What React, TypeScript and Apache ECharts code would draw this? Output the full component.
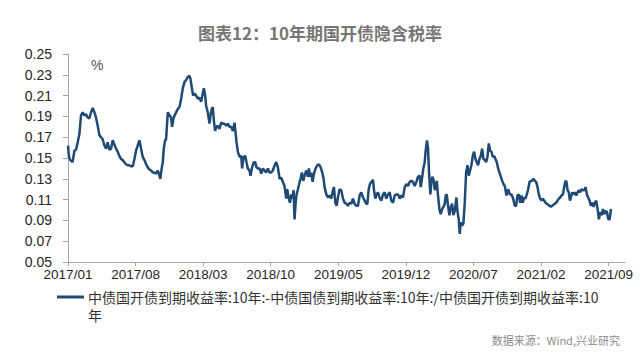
import { useEffect, useRef } from 'react';
import * as echarts from 'echarts';

const chartTitle = '图表12：10年期国开债隐含税率';
const seriesName = '中债国开债到期收益率:10年:-中债国债到期收益率:10年:/中债国开债到期收益率:10年';
const sourceText = '数据来源：Wind,兴业研究';
const unitText = '%';

// x axis: months since 2017/01; labelled every 7 months
const labelMonths = [0, 7, 14, 21, 28, 35, 42, 49, 56];
const yMin = 0.05;
const yMax = 0.25;
const yStep = 0.02;

// observation time (months since 2017/01, fractional)
const t = [
  0, 0.1, 0.24, 0.48, 0.66, 0.83, 1.0, 1.18, 1.35, 1.52, 1.69, 1.87, 2.04, 2.21, 2.39, 2.56, 2.73, 2.9, 3.08, 3.25,
  3.42, 3.59, 3.77, 3.94, 4.11, 4.29, 4.46, 4.63, 4.8, 4.98, 5.15, 5.32, 5.5, 5.67, 5.84, 6.01, 6.19, 6.36, 6.53, 6.71,
  6.88, 7.05, 7.22, 7.4, 7.57, 7.74, 7.92, 8.09, 8.26, 8.43, 8.61, 8.78, 8.95, 9.13, 9.3, 9.47, 9.57, 9.64, 9.82, 9.92,
  10.06, 10.16, 10.34, 10.51, 10.68, 10.78, 10.92, 11.1, 11.37, 11.55, 11.72, 11.89, 12.06, 12.24, 12.41, 12.58, 12.69, 12.82, 12.96, 13.1,
  13.27, 13.45, 13.62, 13.79, 13.96, 14.07, 14.21, 14.31, 14.48, 14.66, 14.76, 14.9, 15.0, 15.11, 15.24, 15.38, 15.52, 15.69, 15.87, 16.04,
  16.21, 16.39, 16.56, 16.73, 16.9, 17.08, 17.25, 17.35, 17.46, 17.6, 17.77, 17.94, 18.04, 18.18, 18.36, 18.49, 18.63, 18.8, 18.91, 19.04,
  19.25, 19.39, 19.53, 19.67, 19.84, 20.02, 20.19, 20.36, 20.53, 20.7, 20.88, 21.05, 21.22, 21.4, 21.57, 21.74, 21.92, 22.09, 22.26, 22.43,
  22.61, 22.71, 22.85, 22.99, 23.13, 23.26, 23.37, 23.47, 23.58, 23.68, 23.82, 23.99, 24.09, 24.23, 24.37, 24.51, 24.68, 24.85, 24.96, 25.06,
  25.2, 25.34, 25.48, 25.65, 25.82, 26.0, 26.17, 26.34, 26.48, 26.58, 26.76, 26.93, 27.1, 27.27, 27.45, 27.55, 27.69, 27.83, 27.96, 28.13,
  28.31, 28.48, 28.66, 28.83, 29.0, 29.18, 29.35, 29.52, 29.69, 29.87, 30.04, 30.21, 30.39, 30.56, 30.73, 30.9, 31.01, 31.15, 31.28, 31.42,
  31.59, 31.7, 31.84, 31.97, 32.11, 32.28, 32.46, 32.63, 32.8, 32.97, 33.15, 33.32, 33.49, 33.67, 33.84, 34.01, 34.19, 34.36, 34.53, 34.7,
  34.88, 35.05, 35.22, 35.4, 35.57, 35.74, 35.91, 36.09, 36.26, 36.43, 36.54, 36.67, 36.81, 36.95, 37.05, 37.19, 37.3, 37.4, 37.54, 37.64,
  37.75, 37.89, 37.99, 38.09, 38.2, 38.33, 38.47, 38.61, 38.75, 38.89, 39.03, 39.13, 39.23, 39.37, 39.51, 39.65, 39.79, 39.92, 40.06, 40.24,
  40.34, 40.48, 40.58, 40.69, 40.82, 40.96, 41.1, 41.24, 41.38, 41.52, 41.65, 41.79, 41.93, 42.07, 42.21, 42.35, 42.48, 42.62, 42.76, 42.9,
  43.04, 43.18, 43.32, 43.45, 43.59, 43.73, 43.87, 44.01, 44.15, 44.28, 44.42, 44.56, 44.7, 44.84, 44.98, 45.11, 45.25, 45.42, 45.59, 45.77,
  45.94, 46.11, 46.28, 46.42, 46.56, 46.7, 46.84, 46.98, 47.11, 47.25, 47.39, 47.53, 47.67, 47.81, 47.94, 48.08, 48.22, 48.36, 48.5, 48.64,
  48.77, 48.91, 49.05, 49.19, 49.33, 49.47, 49.6, 49.74, 49.88, 50.02, 50.16, 50.29, 50.43, 50.57, 50.71, 50.85, 50.99, 51.12, 51.26, 51.4,
  51.54, 51.64, 51.75, 51.88, 51.99, 52.09, 52.23, 52.37, 52.51, 52.65, 52.79, 52.92, 53.06, 53.2, 53.34, 53.48, 53.62, 53.75, 53.89, 54.03,
  54.17, 54.31, 54.45, 54.58, 54.72, 54.86, 55.0, 55.14, 55.28, 55.42, 55.56, 55.7, 55.83, 55.97, 56.11, 56.25,
];

// implied tax rate (%)
const rate = [
  0.162, 0.151, 0.148, 0.146, 0.157, 0.158, 0.165, 0.173, 0.191, 0.194, 0.191, 0.192, 0.189, 0.188, 0.194, 0.198, 0.194, 0.189, 0.181, 0.172,
  0.17, 0.168, 0.162, 0.159, 0.165, 0.158, 0.159, 0.167, 0.163, 0.159, 0.156, 0.152, 0.149, 0.148, 0.146, 0.144, 0.143, 0.143, 0.142, 0.142,
  0.149, 0.157, 0.162, 0.167, 0.159, 0.151, 0.148, 0.144, 0.141, 0.139, 0.138, 0.136, 0.136, 0.135, 0.138, 0.133, 0.13, 0.136, 0.146, 0.159,
  0.167, 0.168, 0.194, 0.191, 0.189, 0.18, 0.188, 0.192, 0.197, 0.199, 0.207, 0.217, 0.223, 0.225, 0.228, 0.229, 0.226, 0.218, 0.21, 0.212,
  0.21, 0.207, 0.208, 0.204, 0.212, 0.217, 0.21, 0.2, 0.194, 0.183, 0.191, 0.197, 0.199, 0.186, 0.176, 0.18, 0.181, 0.178, 0.184, 0.183,
  0.183, 0.181, 0.183, 0.18, 0.18, 0.176, 0.184, 0.175, 0.165, 0.156, 0.151, 0.152, 0.14, 0.151, 0.152, 0.146, 0.14, 0.138, 0.133, 0.14,
  0.146, 0.146, 0.141, 0.14, 0.14, 0.135, 0.14, 0.138, 0.136, 0.14, 0.136, 0.136, 0.138, 0.143, 0.146, 0.141, 0.13, 0.131, 0.127, 0.123,
  0.111, 0.12, 0.112, 0.107, 0.115, 0.111, 0.119, 0.091, 0.107, 0.115, 0.12, 0.127, 0.13, 0.136, 0.128, 0.133, 0.138, 0.132, 0.14, 0.132,
  0.136, 0.127, 0.135, 0.14, 0.143, 0.144, 0.141, 0.136, 0.13, 0.122, 0.115, 0.112, 0.114, 0.111, 0.119, 0.122, 0.107, 0.104, 0.112, 0.12,
  0.119, 0.111, 0.107, 0.106, 0.104, 0.107, 0.106, 0.111, 0.106, 0.104, 0.104, 0.114, 0.117, 0.112, 0.109, 0.106, 0.106, 0.12, 0.125, 0.127,
  0.129, 0.119, 0.111, 0.115, 0.117, 0.112, 0.109, 0.115, 0.117, 0.111, 0.115, 0.117, 0.109, 0.107, 0.114, 0.115, 0.115, 0.111, 0.114, 0.112,
  0.122, 0.125, 0.123, 0.127, 0.128, 0.127, 0.123, 0.127, 0.132, 0.133, 0.122, 0.13, 0.14, 0.146, 0.157, 0.167, 0.159, 0.136, 0.115, 0.127,
  0.132, 0.128, 0.119, 0.122, 0.128, 0.114, 0.101, 0.096, 0.101, 0.103, 0.106, 0.114, 0.115, 0.104, 0.095, 0.103, 0.106, 0.095, 0.099, 0.112,
  0.099, 0.091, 0.077, 0.088, 0.085, 0.087, 0.107, 0.136, 0.143, 0.133, 0.138, 0.143, 0.152, 0.156, 0.149, 0.146, 0.143, 0.149, 0.152, 0.159,
  0.149, 0.148, 0.146, 0.151, 0.164, 0.157, 0.156, 0.151, 0.152, 0.149, 0.146, 0.14, 0.136, 0.132, 0.128, 0.125, 0.123, 0.114, 0.12, 0.115,
  0.115, 0.111, 0.104, 0.104, 0.114, 0.115, 0.107, 0.114, 0.107, 0.112, 0.111, 0.115, 0.12, 0.127, 0.128, 0.128, 0.13, 0.128, 0.127, 0.122,
  0.115, 0.111, 0.109, 0.111, 0.109, 0.107, 0.106, 0.105, 0.104, 0.103, 0.104, 0.105, 0.106, 0.107, 0.109, 0.111, 0.112, 0.114, 0.115, 0.122,
  0.128, 0.127, 0.119, 0.117, 0.109, 0.112, 0.117, 0.115, 0.117, 0.114, 0.117, 0.119, 0.117, 0.12, 0.119, 0.119, 0.122, 0.115, 0.112, 0.109,
  0.104, 0.107, 0.103, 0.107, 0.109, 0.101, 0.091, 0.098, 0.095, 0.101, 0.096, 0.099, 0.098, 0.091, 0.091, 0.101,
];

const lineColor = '#1f4a75';

const monthLabel = (m: number) => {
  const y = 2017 + Math.floor(m / 12);
  const mo = (m % 12) + 1;
  return `${y}/${mo < 10 ? '0' + mo : mo}`;
};

export default function App() {
  const ref = useRef<HTMLDivElement>(null);

  useEffect(() => {
    if (!ref.current) return;
    const chart = echarts.init(ref.current, undefined, { renderer: 'svg' });
    const data = t.map((x, i) => [x, rate[i]]);
    chart.setOption({
      animation: false,
      backgroundColor: '#ffffff',
      title: {
        text: chartTitle,
        left: 'center',
        top: 19,
        textStyle: {
          fontFamily: "'Noto Sans CJK SC', sans-serif",
          fontSize: 17,
          fontWeight: 'bold',
          color: '#767676',
        },
      },
      grid: { left: 68, right: 15, top: 54, bottom: 96 },
      xAxis: {
        type: 'value',
        min: 0,
        max: 57.7,
        interval: 7,
        splitLine: { show: false },
        axisLine: { lineStyle: { color: '#a6a6a6', width: 1 } },
        axisTick: { show: true, customValues: labelMonths, length: 4, lineStyle: { color: '#a6a6a6' } },
        axisLabel: {
          customValues: labelMonths,
          formatter: (v: number) => monthLabel(Math.round(v)),
          color: '#262626',
          fontSize: 13.5,
          margin: 5,
          fontFamily: "'Liberation Sans', sans-serif",
        },
      },
      yAxis: {
        type: 'value',
        min: yMin,
        max: yMax,
        interval: yStep,
        splitLine: { show: false },
        axisLine: { show: true, lineStyle: { color: '#a6a6a6', width: 1 } },
        axisTick: { show: true, length: 5, lineStyle: { color: '#a6a6a6' } },
        axisLabel: {
          formatter: (v: number) => v.toFixed(2),
          color: '#262626',
          fontSize: 14,
          margin: 16,
          fontFamily: "'Liberation Sans', sans-serif",
        },
      },
      graphic: [
        {
          type: 'text',
          left: 91,
          top: 58,
          style: { text: unitText, fontSize: 14, fill: '#555555', fontFamily: "'Liberation Sans', sans-serif" },
        },
        {
          type: 'rect',
          left: 57,
          top: 295.5,
          shape: { width: 27, height: 3 },
          style: { fill: lineColor },
        },
        {
          type: 'text',
          left: 88,
          top: 288,
          style: {
            text: seriesName,
            width: 514,
            overflow: 'breakAll',
            lineHeight: 18,
            fontSize: 14,
            fill: '#333333',
            fontFamily: "'Noto Sans CJK SC', sans-serif",
          },
        },
        {
          type: 'text',
          right: 20,
          top: 334,
          style: { text: sourceText, fontSize: 11, fill: '#8c8c8c', fontFamily: "'Noto Sans CJK SC', sans-serif" },
        },
      ],
      series: [
        {
          name: seriesName,
          type: 'line',
          data,
          showSymbol: false,
          symbol: 'none',
          lineStyle: { color: lineColor, width: 2.5 },
          itemStyle: { color: lineColor },
        },
      ],
    });
    return () => chart.dispose();
  }, []);

  return (
    <div
      ref={ref}
      style={{ position: 'absolute', left: 0, top: 0, width: 640, height: 358 }}
    />
  );
}
